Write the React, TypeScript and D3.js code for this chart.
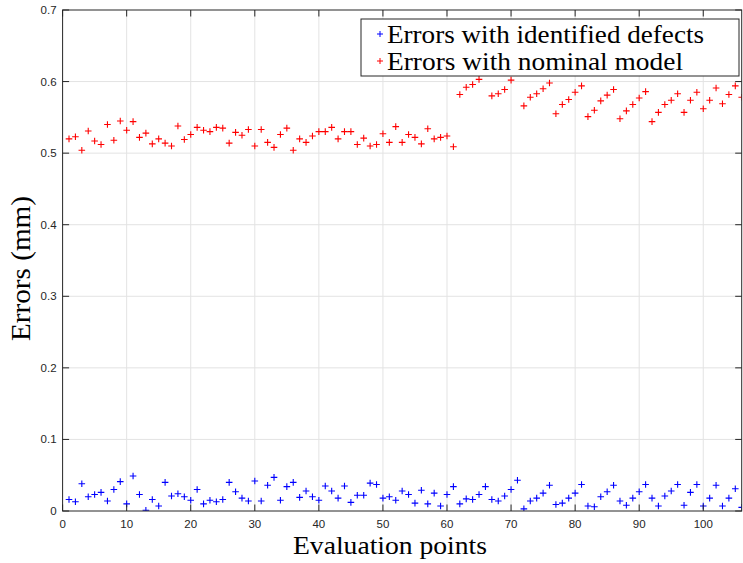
import React, { useEffect, useRef } from 'react';
import * as d3 from 'd3';

// errors per evaluation point (mm), points 1..106
const nominalErrors = [
  0.520, 0.523, 0.504, 0.531, 0.517, 0.512, 0.540, 0.518, 0.545, 0.532,
  0.544, 0.522, 0.528, 0.513, 0.520, 0.514, 0.510, 0.538, 0.519, 0.526,
  0.536, 0.532, 0.530, 0.536, 0.535, 0.514, 0.529, 0.525, 0.533, 0.510,
  0.533, 0.515, 0.508, 0.526, 0.535, 0.504, 0.520, 0.515, 0.524, 0.530,
  0.530, 0.536, 0.520, 0.530, 0.530, 0.512, 0.521, 0.510, 0.512, 0.527,
  0.515, 0.537, 0.515, 0.526, 0.522, 0.513, 0.534, 0.520, 0.522, 0.524,
  0.509, 0.582, 0.592, 0.596, 0.603, 0.618, 0.580, 0.583, 0.589, 0.602,
  0.618, 0.566, 0.578, 0.583, 0.590, 0.598, 0.555, 0.568, 0.575, 0.585,
  0.594, 0.551, 0.560, 0.573, 0.581, 0.589, 0.548, 0.559, 0.568, 0.577,
  0.586, 0.544, 0.557, 0.568, 0.574, 0.583, 0.557, 0.574, 0.585, 0.562,
  0.574, 0.591, 0.569, 0.582, 0.594, 0.578,
];

const defectErrors = [
  0.016, 0.013, 0.038, 0.020, 0.023, 0.026, 0.014, 0.030, 0.041, 0.010,
  0.049, 0.023, 0.001, 0.016, 0.007, 0.040, 0.021, 0.024, 0.020, 0.015,
  0.030, 0.010, 0.015, 0.013, 0.016, 0.040, 0.027, 0.018, 0.014, 0.042,
  0.014, 0.036, 0.047, 0.015, 0.034, 0.040, 0.019, 0.028, 0.020, 0.015,
  0.035, 0.028, 0.018, 0.035, 0.012, 0.022, 0.022, 0.039, 0.037, 0.018,
  0.020, 0.015, 0.028, 0.023, 0.011, 0.029, 0.010, 0.025, 0.007, 0.023,
  0.034, 0.010, 0.017, 0.016, 0.023, 0.034, 0.016, 0.014, 0.021, 0.030,
  0.043, 0.003, 0.014, 0.018, 0.025, 0.036, 0.009, 0.011, 0.018, 0.025,
  0.037, 0.007, 0.006, 0.020, 0.027, 0.036, 0.014, 0.008, 0.018, 0.027,
  0.037, 0.018, 0.007, 0.021, 0.028, 0.037, 0.008, 0.026, 0.037, 0.007,
  0.018, 0.036, 0.007, 0.018, 0.031, 0.005,
];

const xTicks = [0, 10, 20, 30, 40, 50, 60, 70, 80, 90, 100];
const yTicks = [0, 0.1, 0.2, 0.3, 0.4, 0.5, 0.6, 0.7];
const legendLabels = ['Errors with identified defects', 'Errors with nominal model'];
const seriesColors = ['#0000ff', '#ff0000'];

const W = 743, H = 563;
const serif = '"Liberation Serif", "Times New Roman", serif';
const sans = '"Liberation Sans", Arial, sans-serif';

const App = () => {
  const ref = useRef<SVGSVGElement>(null);

  useEffect(() => {
    const svg = d3.select(ref.current);
    svg.selectAll('*').remove();

    const left = 62.6, right = 741.7, top = 10, bottom = 511;
    const x = d3.scaleLinear().domain([0, 106]).range([left, right]);
    const y = d3.scaleLinear().domain([0, 0.7]).range([bottom, top]);

    svg.append('rect').attr('width', W).attr('height', H).attr('fill', '#fff');

    // grid
    const grid = svg.append('g').attr('stroke', '#e3e3e3').attr('stroke-width', 1);
    grid.selectAll('line.gx')
      .data(xTicks.slice(1))
      .join('line')
        .attr('x1', d => x(d)).attr('x2', d => x(d))
        .attr('y1', top).attr('y2', bottom);
    grid.selectAll('line.gy')
      .data(yTicks.slice(1, -1))
      .join('line')
        .attr('class', 'gy')
        .attr('x1', left).attr('x2', right)
        .attr('y1', d => y(d)).attr('y2', d => y(d));

    svg.append('clipPath').attr('id', 'plotclip')
      .append('rect')
        .attr('x', left).attr('y', top)
        .attr('width', right - left).attr('height', bottom - top);

    const plusPath = (s: number) => `M${-s},0H${s}M0,${-s}V${s}`;

    const series = [defectErrors, nominalErrors];
    const pts = svg.append('g').attr('clip-path', 'url(#plotclip)');
    series.forEach((vals, k) => {
      pts.append('g')
        .selectAll('path')
        .data(vals)
        .join('path')
          .attr('d', plusPath(3.3))
          .attr('transform', (d, i) => `translate(${x(i + 1)},${y(d)})`)
          .attr('stroke', seriesColors[k])
          .attr('stroke-width', 1.1)
          .attr('fill', 'none');
    });

    // axes box with inward ticks
    const axisColor = '#262626';
    const ax = svg.append('g').attr('stroke', axisColor).attr('stroke-width', 1).attr('fill', 'none');
    ax.append('rect')
      .attr('x', left).attr('y', top)
      .attr('width', right - left).attr('height', bottom - top);
    ax.selectAll('path.tx')
      .data(xTicks)
      .join('path')
        .attr('d', d => `M${x(d)},${bottom}v-6.5M${x(d)},${top}v6.5`);
    ax.selectAll('path.ty')
      .data(yTicks)
      .join('path')
        .attr('class', 'ty')
        .attr('d', d => `M${left},${y(d)}h6.5M${right},${y(d)}h-6.5`);

    svg.append('g')
      .selectAll('text')
      .data(xTicks)
      .join('text')
        .attr('x', d => x(d))
        .attr('y', bottom + 17)
        .attr('text-anchor', 'middle')
        .attr('font-family', sans)
        .attr('font-size', 11.5)
        .attr('fill', axisColor)
        .text(d => d);

    svg.append('g')
      .selectAll('text')
      .data(yTicks)
      .join('text')
        .attr('x', left - 6)
        .attr('y', d => y(d))
        .attr('dy', '0.35em')
        .attr('text-anchor', 'end')
        .attr('font-family', sans)
        .attr('font-size', 11.5)
        .attr('fill', axisColor)
        .text(d => d3.format('~g')(d));

    svg.append('text')
      .attr('x', 293)
      .attr('y', 553.5)
      .attr('font-family', serif)
      .attr('font-size', 25)
      .attr('textLength', 194)
      .attr('lengthAdjust', 'spacingAndGlyphs')
      .attr('fill', '#000')
      .text('Evaluation points');

    svg.append('text')
      .attr('transform', 'translate(30,341) rotate(-90)')
      .attr('font-family', serif)
      .attr('font-size', 27)
      .attr('textLength', 145)
      .attr('lengthAdjust', 'spacingAndGlyphs')
      .attr('fill', '#000')
      .text('Errors (mm)');

    // legend
    const lg = svg.append('g').attr('transform', 'translate(361,19)');
    lg.append('rect')
      .attr('width', 378).attr('height', 57)
      .attr('fill', '#fff')
      .attr('stroke', axisColor)
      .attr('stroke-width', 1);
    const legendWidths = [317, 296];
    legendLabels.forEach((label, k) => {
      const cy = 15 + k * 27;
      lg.append('path')
        .attr('d', plusPath(3))
        .attr('transform', `translate(19,${cy})`)
        .attr('stroke', seriesColors[k])
        .attr('stroke-width', 1);
      lg.append('text')
        .attr('x', 26)
        .attr('y', cy + 9)
        .attr('font-family', serif)
        .attr('font-size', 26)
        .attr('textLength', legendWidths[k])
        .attr('lengthAdjust', 'spacingAndGlyphs')
        .attr('fill', '#000')
        .text(label);
    });
  }, []);

  return (
    <svg ref={ref} width={W} height={H} style={{ position: 'absolute', left: 0, top: 0 }}></svg>
  );
};

export default App;
